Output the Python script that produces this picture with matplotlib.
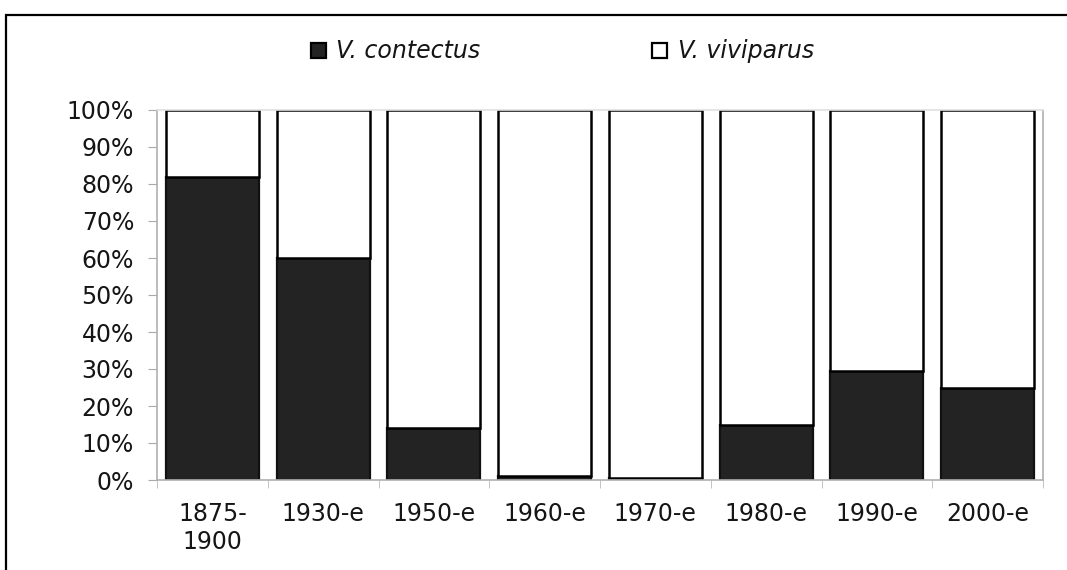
import matplotlib
matplotlib.use("Agg")
import matplotlib.pyplot as plt
from matplotlib.patches import Rectangle
import numpy as np

categories = ["1875-\n1900", "1930-e", "1950-e", "1960-e", "1970-e", "1980-e", "1990-e", "2000-e"]
contectus = [82, 60, 14, 1, 0.5, 15, 29.5, 25]
viviparus = [100 - v for v in contectus]
yticks = [0, 10, 20, 30, 40, 50, 60, 70, 80, 90, 100]
ytick_labels = [f"{t}%" for t in yticks]
legend_labels = ["V. contectus", "V. viviparus"]

plt.rcParams['font.family'] = ['DejaVu Sans']

W, H = 1067, 570
DARK = "#232323"
fig = plt.figure(figsize=(W / 100, H / 100), dpi=100)
fig.patch.set_facecolor("white")

# outer frame (cut off on right and bottom)
fig.add_artist(Rectangle((6 / W, -0.05), 1.2, 1 - 15 / H + 0.05, transform=fig.transFigure,
                         fill=False, edgecolor="black", linewidth=1.6))

ax = fig.add_axes([157 / W, (H - 480) / H, (1043 - 157) / W, (480 - 110) / H])
x = np.arange(len(categories))
ax.bar(x, contectus, width=0.84, color=DARK, edgecolor="#111111", linewidth=1.6)
ax.bar(x, viviparus, bottom=contectus, width=0.84, color="white", edgecolor="black", linewidth=1.8)

ax.set_xlim(-0.5, len(categories) - 0.5)
ax.set_ylim(0, 100)
ax.set_yticks(yticks)
ax.set_yticklabels(ytick_labels, fontsize=17, color="#151515")
ax.set_xticks(x)
ax.set_xticklabels(categories, fontsize=17, color="#151515", linespacing=1.2)
ax.set_xticks(np.arange(len(categories) + 1) - 0.5, minor=True)
ax.tick_params(axis="x", which="major", length=0, pad=16)
ax.tick_params(axis="x", which="minor", length=6, color="#bbbbbb", direction="out")
ax.tick_params(axis="y", length=6.5, color="#aaaaaa", direction="out", pad=10)
for s in ["left", "bottom", "right", "top"]:
    ax.spines[s].set_color("#b0b0b0")
    ax.spines[s].set_linewidth(1.2)
ax.spines["top"].set_color("#e0e0e0")

# legend drawn manually
leg_y = 1 - 51 / H
markers = [(311, DARK), (652, "white")]
texts_x = [336, 678]
for (mx, fc), tx, lab in zip(markers, texts_x, legend_labels):
    fig.add_artist(Rectangle((mx / W, 1 - 58 / H), 15 / W, 15 / H, transform=fig.transFigure,
                             facecolor=fc, edgecolor="black", linewidth=1.6))
    fig.text(tx / W, leg_y, lab, ha="left", va="center", fontsize=17, style="italic",
             color="#151515")

fig.savefig("out.png", dpi=100, facecolor="white")
